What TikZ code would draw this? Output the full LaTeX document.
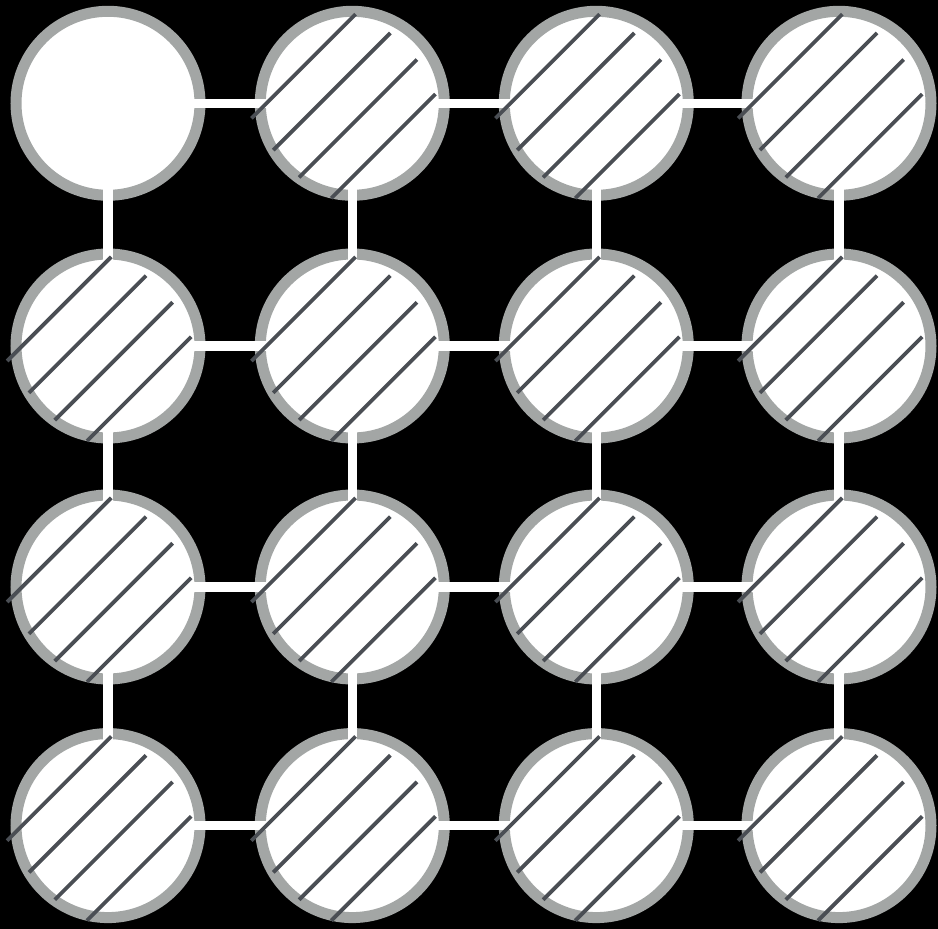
\documentclass[tikz,border=0pt]{standalone}
\usetikzlibrary{calc}
\definecolor{ringgray}{HTML}{A3A6A5}
\definecolor{hatchgray}{HTML}{4A4E54}

\begin{document}
\begin{tikzpicture}[x=1pt, y=1pt,
  site/.style={circle, draw=ringgray, line width=11pt, fill=white,
               minimum size=184pt, inner sep=0pt},
  bond/.style={white, line width=9.5pt},
  hatch/.style={hatchgray, line width=3.8pt}
]
  % Background
  \fill[black] (0,0) rectangle (938,929);
  \useasboundingbox (0,0) rectangle (938,929);

  % Sites
  \foreach \i/\x in {0/108,1/352.3,2/596.3,3/839}
    \foreach \j/\y in {0/825.7,1/583,2/342,3/103.4}
      \node[site] (s\i\j) at (\x,\y) {};

  % Bonds
  \foreach \i [count=\k] in {0,1,2}
    \foreach \j in {0,1,2,3} {
      \draw[bond] (s\i\j.center) -- (s\k\j.center);
      \draw[bond] (s\j\i.center) -- (s\j\k.center);
    }

  % Hatching (all but the first site)
  \foreach \i in {0,...,3}
    \foreach \j in {0,...,3} {
      \ifnum\i\j>0
        \begin{scope}[shift={(s\i\j.center)}, rotate=45]
          \foreach \o/\a/\b in {60.7/-82/65.3, 22.8/-89/76.6,
                                -14.8/-90/76.6, -52.3/-82/65.3}
            \draw[hatch] (\a,\o) -- (\b,\o);
        \end{scope}
      \fi
    }
\end{tikzpicture}
\end{document}
